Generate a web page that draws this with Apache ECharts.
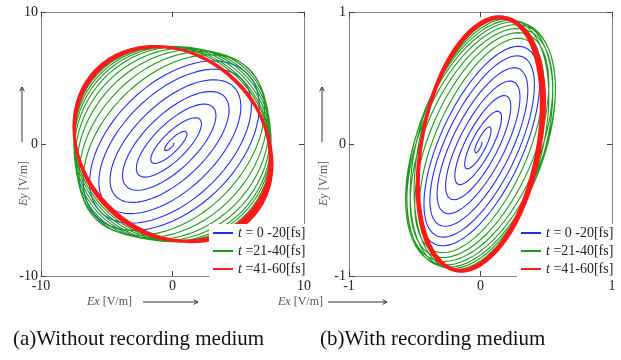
<!DOCTYPE html>
<html lang="en">
   <head>
      <meta charset="utf-8">
      <title>Ex-Ey trajectories</title>
      <script type="text/javascript" src="https://cdn.jsdelivr.net/npm/echarts@6/dist/echarts.min.js"></script>
      <style>
         html, body { margin: 0; padding: 0; background: #fff; }
         #main { width: 621px; height: 360px; }
      </style>
   </head>
   <body>
      <div id="main"></div>
      <script>
        // envelope of the field, one value per optical cycle
        // (a) without recording medium
        var exAmpA = [0.1, 1.1, 2.2, 3.3, 4.3, 5.2, 6.0, 6.6, 7.0, 7.2, 7.35, 7.45, 7.5, 7.5, 7.5, 7.5, 7.4, 7.55, 7.45, 7.6, 7.4, 7.55, 7.45, 7.5];
        var eyAmpA = [0.1, 1.05, 2.1, 3.15, 4.1, 5.0, 5.8, 6.4, 6.85, 7.05, 7.2, 7.3, 7.4, 7.4, 7.4, 7.4, 7.35, 7.45, 7.3, 7.45, 7.35, 7.4, 7.3, 7.4];
        var phaseA = [30, 34, 39, 44, 49, 54, 59, 63, 67, 73, 79, 84, 88, 91, 94, 96, 99, 101, 98, 102, 99, 100, 98, 100];
        // (b) with recording medium
        var exAmpB = [0.01, 0.08, 0.16, 0.23, 0.30, 0.36, 0.41, 0.45, 0.48, 0.52, 0.55, 0.57, 0.57, 0.55, 0.52, 0.49, 0.48, 0.46, 0.49, 0.47, 0.48, 0.46, 0.48, 0.47];
        var eyAmpB = [0.02, 0.14, 0.26, 0.38, 0.49, 0.59, 0.68, 0.75, 0.81, 0.85, 0.88, 0.91, 0.93, 0.94, 0.95, 0.955, 0.96, 0.97, 0.95, 0.965, 0.96, 0.95, 0.97, 0.96];
        var phaseB = [30, 33, 36, 39, 42, 45, 48, 51, 54, 57, 60, 62, 64, 66, 68, 70, 71, 73, 70, 72, 74, 71, 72, 72];

        var seriesNames = ['t = 0 -20[fs]', 't =21-40[fs]', 't =41-60[fs]'];
        var seriesColors = ['#2230ee', '#1f9a1f', '#ff1a1a'];
        var cycleBounds = [0, 7.5, 15, 22.5];   // 20 fs per 7.5 cycles
        var captions = ['(a)Without recording medium', '(b)With recording medium'];
        var axisMax = [10, 1];

        var STEPS = 72;
        function trace(ex, ey, ph, c0, c1) {
            var pts = [];
            for (var i = Math.round(c0 * STEPS); i <= Math.round(c1 * STEPS); i++) {
                var c = i / STEPS, k = Math.min(Math.floor(c), ex.length - 2), f = c - k;
                var a = ex[k] + (ex[k + 1] - ex[k]) * f;
                var b = ey[k] + (ey[k + 1] - ey[k]) * f;
                var p = (ph[k] + (ph[k + 1] - ph[k]) * f) * Math.PI / 180;
                var th = 2 * Math.PI * c;
                pts.push([a * Math.cos(th), b * Math.cos(th + p)]);
            }
            return pts;
        }

        var serif = 'Liberation Serif';
        var panels = [[exAmpA, eyAmpA, phaseA], [exAmpB, eyAmpB, phaseB]];
        var gridLeft = [41, 349];

        var grids = [], xAxes = [], yAxes = [], series = [], legends = [];
        panels.forEach(function (pn, g) {
            grids.push({left: gridLeft[g], top: 12, width: 263, height: 264});
            var m = axisMax[g];
            ['bottom', 'top'].forEach(function (pos, j) {
                xAxes.push({
                    gridIndex: g, type: 'value', position: pos, min: -m, max: m, interval: m,
                    axisLine: {onZero: false, lineStyle: {color: '#808080', width: 1}},
                    axisTick: {inside: true, length: 5, lineStyle: {color: '#444'}},
                    axisLabel: {show: j === 0, fontFamily: serif, fontSize: 14, color: '#222', margin: 3},
                    splitLine: {show: false}
                });
            });
            ['left', 'right'].forEach(function (pos, j) {
                yAxes.push({
                    gridIndex: g, type: 'value', position: pos, min: -m, max: m, interval: m,
                    axisLine: {onZero: false, lineStyle: {color: '#808080', width: 1}},
                    axisTick: {inside: true, length: 5, lineStyle: {color: '#444'}},
                    axisLabel: {show: j === 0, fontFamily: serif, fontSize: 14, color: '#222', margin: 3},
                    splitLine: {show: false}
                });
            });
            for (var s = 0; s < 3; s++) {
                series.push({
                    name: seriesNames[s], type: 'line', xAxisIndex: g * 2, yAxisIndex: g * 2,
                    data: trace(pn[0], pn[1], pn[2], cycleBounds[s], cycleBounds[s + 1]),
                    showSymbol: false, symbol: 'none', smooth: false,
                    lineStyle: {color: seriesColors[s], width: s === 2 ? 2.3 : 1.1},
                    itemStyle: {color: seriesColors[s]},
                    z: 2 + s
                });
            }
            legends.push({
                data: seriesNames, orient: 'vertical',
                left: gridLeft[g] + 168, top: 224,
                icon: 'rect', itemWidth: 20, itemHeight: 2, itemGap: 4,
                backgroundColor: '#fff', padding: [2, 2, 2, 4],
                formatter: function (n) { return '{i|t}{r|' + n.slice(1) + '}'; },
                textStyle: {
                    fontFamily: serif, fontSize: 14, color: '#222',
                    rich: {
                        i: {fontFamily: serif, fontSize: 14, fontStyle: 'italic', color: '#222'},
                        r: {fontFamily: serif, fontSize: 14, color: '#222'}
                    }
                },
                z: 10
            });
        });

        function arrow(x1, y1, x2, y2) {
            var ang = Math.atan2(y2 - y1, x2 - x1), h = 5;
            return [
                {type: 'line', shape: {x1: x1, y1: y1, x2: x2, y2: y2}, style: {stroke: '#333', lineWidth: 1}},
                {type: 'polyline', shape: {points: [
                    [x2 - h * Math.cos(ang - 0.5), y2 - h * Math.sin(ang - 0.5)], [x2, y2],
                    [x2 - h * Math.cos(ang + 0.5), y2 - h * Math.sin(ang + 0.5)]]},
                    style: {stroke: '#333', lineWidth: 1, fill: null}}
            ];
        }

        var graphics = [];
        var eyX = [22, 322], exTextX = [87, 278], exArrow = [[143, 198], [328, 387]], capX = [13, 320];
        for (var g = 0; g < 2; g++) {
            graphics = graphics.concat(arrow(eyX[g], 142, eyX[g], 87));
            graphics.push({
                type: 'text', x: eyX[g] - 4, y: 206, rotation: Math.PI / 2,
                style: {
                    text: '{i|Ey} [V/m]', font: '12px ' + serif, fill: '#555',
                    rich: {i: {fontStyle: 'italic', fontFamily: serif, fontSize: 12, fill: '#555'}}
                }
            });
            graphics.push({
                type: 'text', x: exTextX[g], y: 296,
                style: {
                    text: '{i|Ex} [V/m]', font: '12px ' + serif, fill: '#555',
                    rich: {i: {fontStyle: 'italic', fontFamily: serif, fontSize: 12, fill: '#555'}}
                }
            });
            graphics = graphics.concat(arrow(exArrow[g][0], 302, exArrow[g][1], 302));
            graphics.push({
                type: 'text', x: capX[g], y: 329,
                style: {text: captions[g], font: '21px ' + serif, fill: '#111'}
            });
        }

        var chart = echarts.init(document.getElementById('main'), null, {renderer: 'canvas'});
        chart.setOption({
            animation: false,
            backgroundColor: '#fff',
            grid: grids,
            xAxis: xAxes,
            yAxis: yAxes,
            legend: legends,
            series: series,
            graphic: graphics
        });
      </script>
   </body>
</html>
